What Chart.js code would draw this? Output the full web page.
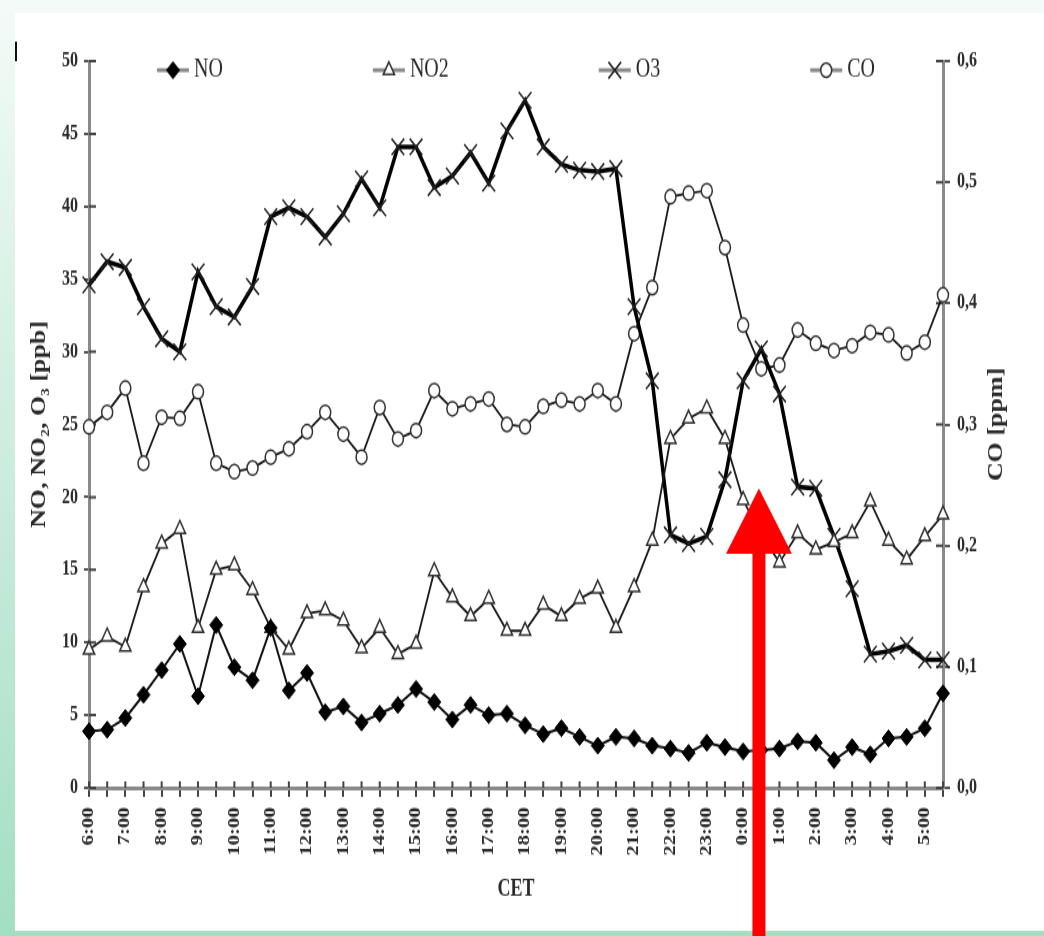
<!DOCTYPE html>
<html>
<head>
<meta charset="utf-8">
<title>NO, NO2, O3, CO</title>
<script src="https://cdn.jsdelivr.net/npm/chart.js@4.4.1/dist/chart.umd.min.js"></script>
<style>
  html { overflow: hidden; }
  body { margin: 0; padding: 0; background: #fff; width: 1044px; height: 936px; }
  /* the source figure is stretched vertically, so is this one */
  #myChart { display: block; transform: scaleY(1.3); transform-origin: 0 0; }
</style>
</head>
<body>
<canvas id="myChart" width="1044" height="720"></canvas>
<script>
const times = ['6:00', '6:30', '7:00', '7:30', '8:00', '8:30', '9:00', '9:30', '10:00', '10:30', '11:00', '11:30',
  '12:00', '12:30', '13:00', '13:30', '14:00', '14:30', '15:00', '15:30', '16:00', '16:30', '17:00', '17:30',
  '18:00', '18:30', '19:00', '19:30', '20:00', '20:30', '21:00', '21:30', '22:00', '22:30', '23:00', '23:30',
  '0:00', '0:30', '1:00', '1:30', '2:00', '2:30', '3:00', '3:30', '4:00', '4:30', '5:00', '5:30'];

// ppb
const noValues = [3.9, 4.0, 4.8, 6.4, 8.1, 9.9, 6.3, 11.2, 8.3, 7.4, 11.0, 6.7, 7.9, 5.2, 5.6, 4.5, 5.1, 5.7, 6.8, 5.9, 4.7, 5.7, 5.0, 5.1,
  4.3, 3.7, 4.1, 3.5, 2.9, 3.5, 3.4, 2.9, 2.7, 2.4, 3.1, 2.8, 2.5, 2.6, 2.7, 3.2, 3.1, 1.9, 2.8, 2.3, 3.4, 3.5, 4.1, 6.5];
const no2Values = [9.5, 10.4, 9.7, 13.8, 16.8, 17.8, 11.0, 15.0, 15.3, 13.6, 11.0, 9.5, 12.0, 12.2, 11.5, 9.6, 11.0, 9.2, 9.9, 14.9, 13.1, 11.8, 13.0, 10.8,
  10.8, 12.6, 11.8, 13.0, 13.7, 11.0, 13.8, 17.0, 24.0, 25.4, 26.1, 24.0, 19.8, 17.4, 15.5, 17.5, 16.4, 16.9, 17.5, 19.7, 17.0, 15.7, 17.3, 18.8];
const o3Values = [34.6, 36.2, 35.8, 33.1, 30.9, 30.0, 35.5, 33.1, 32.4, 34.5, 39.3, 39.9, 39.3, 37.9, 39.5, 41.9, 39.9, 44.1, 44.1, 41.3, 42.1, 43.7, 41.6, 45.2,
  47.3, 44.1, 42.9, 42.5, 42.4, 42.6, 33.1, 28.0, 17.4, 16.8, 17.3, 21.2, 28.0, 30.2, 27.1, 20.7, 20.6, 17.3, 13.7, 9.2, 9.4, 9.8, 8.8, 8.8];
// ppm
const coValues = [0.298, 0.310, 0.330, 0.268, 0.306, 0.305, 0.327, 0.268, 0.261, 0.264, 0.273, 0.280, 0.294, 0.310, 0.292, 0.273, 0.314, 0.288, 0.295, 0.328, 0.313, 0.317, 0.321, 0.300,
  0.298, 0.315, 0.320, 0.317, 0.328, 0.317, 0.375, 0.413, 0.488, 0.491, 0.493, 0.446, 0.382, 0.346, 0.349, 0.378, 0.367, 0.361, 0.365, 0.376, 0.374, 0.359, 0.368, 0.407];

const seriesLabels = ['NO', 'NO2', 'O3', 'CO'];
const leftTitle = 'NO, NO\u2082, O\u2083 [ppb]';
const rightTitle = 'CO [ppm]';
const xTitle = 'CET';

// red arrow drawn on top of the figure (index on x, ppb on y)
const arrow = { at: 36.87, tip: 20.6, base: 16.1 };

const serif = "'Liberation Serif', 'DejaVu Serif', serif";
Chart.defaults.font.family = serif;
Chart.defaults.color = '#2a2a2a';

//
const background = {
  id: 'background',
  beforeDraw(chart) {
    const { ctx, width, height } = chart;
    const grad = ctx.createLinearGradient(0, 0, 0, height);
    grad.addColorStop(0, '#f4fbf8');
    grad.addColorStop(1, '#a3dfc1');
    ctx.save();
    ctx.fillStyle = grad;
    ctx.fillRect(0, 0, width, height);
    ctx.fillStyle = '#fff';
    ctx.fillRect(15, 10, width - 15, 706);
    ctx.fillStyle = '#111';
    ctx.fillRect(15, 32, 2, 15);
    ctx.restore();
  },
};

// ticks cross the axis line in the original
const innerTicks = {
  id: 'innerTicks',
  beforeDatasetsDraw(chart) {
    const { ctx, scales } = chart;
    ctx.save();
    ctx.strokeStyle = '#444';
    ctx.lineWidth = 2;
    ctx.beginPath();
    scales.x.ticks.forEach((t, i) => {
      const px = scales.x.getPixelForTick(i);
      ctx.moveTo(px, scales.x.top);
      ctx.lineTo(px, scales.x.top - 5);
    });
    scales.y.ticks.forEach((t, i) => {
      const py = scales.y.getPixelForTick(i);
      ctx.moveTo(scales.y.right, py);
      ctx.lineTo(scales.y.right + 7, py);
    });
    scales.y1.ticks.forEach((t, i) => {
      const py = scales.y1.getPixelForTick(i);
      ctx.moveTo(scales.y1.left, py);
      ctx.lineTo(scales.y1.left - 7, py);
    });
    ctx.stroke();
    ctx.restore();
  },
};

// legend sits inside the plot, line + marker + text
const lineLegend = {
  id: 'lineLegend',
  afterDatasetsDraw(chart) {
    const { ctx, chartArea } = chart;
    const gap = 150;
    ctx.save();
    ctx.font = `20px ${serif}`;
    const items = chart.data.datasets.map((ds) => ({ ds, w: 37 + ctx.measureText(ds.label).width }));
    const total = items.reduce((s, it) => s + it.w, 0) + gap * (items.length - 1);
    let x = (chartArea.left + chartArea.right) / 2 - total / 2;
    const y = chartArea.top + 7;
    items.forEach(({ ds, w }) => {
      ctx.strokeStyle = '#8a8a8a';
      ctx.lineWidth = 3;
      ctx.beginPath();
      ctx.moveTo(x, y);
      ctx.lineTo(x + 32, y);
      ctx.stroke();
      ctx.fillStyle = ds.pointBackgroundColor;
      ctx.strokeStyle = ds.pointBorderColor;
      ctx.lineWidth = ds.pointBorderWidth;
      Chart.helpers.drawPoint(ctx, {
        pointStyle: ds.pointStyle,
        radius: ds.pointRadius,
        borderWidth: ds.pointBorderWidth,
        rotation: 0,
      }, x + 16, y);
      ctx.fillStyle = '#2a2a2a';
      ctx.textAlign = 'left';
      ctx.textBaseline = 'middle';
      ctx.fillText(ds.label, x + 37, y);
      x += w + gap;
    });
    ctx.restore();
  },
};

const extras = {
  id: 'extras',
  afterDraw(chart) {
    const { ctx, chartArea, scales, height } = chart;
    ctx.save();
    // right axis title reads bottom to top like the left one
    ctx.translate(scales.y1.left + 54, (chartArea.top + chartArea.bottom) / 2);
    ctx.rotate(-Math.PI / 2);
    ctx.font = `bold 20px ${serif}`;
    ctx.fillStyle = '#2a2a2a';
    ctx.textAlign = 'center';
    ctx.textBaseline = 'middle';
    ctx.fillText(rightTitle, 0, 0);
    ctx.restore();

    const px = scales.x.getPixelForValue(arrow.at);
    const tipY = scales.y.getPixelForValue(arrow.tip);
    const baseY = scales.y.getPixelForValue(arrow.base);
    ctx.save();
    ctx.fillStyle = '#ff0000';
    ctx.fillRect(px - 6.5, baseY - 4, 13, height - baseY + 4);
    ctx.beginPath();
    ctx.moveTo(px, tipY);
    ctx.lineTo(px + 33, baseY);
    ctx.lineTo(px - 33, baseY);
    ctx.closePath();
    ctx.fill();
    ctx.restore();
  },
};

const axisBorder = { color: '#8a8a8a', width: 3 };

const chart = new Chart(document.getElementById('myChart'), {
  type: 'line',
  data: {
    labels: times,
    datasets: [
      {
        label: seriesLabels[0],
        data: noValues,
        yAxisID: 'y',
        borderColor: '#111',
        borderWidth: 2,
        pointStyle: 'rectRot',
        pointRadius: 6.5,
        pointBackgroundColor: '#000',
        pointBorderColor: '#000',
        pointBorderWidth: 1,
      },
      {
        label: seriesLabels[1],
        data: no2Values,
        yAxisID: 'y',
        borderColor: '#1a1a1a',
        borderWidth: 1.8,
        pointStyle: 'triangle',
        pointRadius: 6.5,
        pointBackgroundColor: '#fff',
        pointBorderColor: '#333',
        pointBorderWidth: 1.5,
      },
      {
        label: seriesLabels[2],
        data: o3Values,
        yAxisID: 'y',
        borderColor: '#000',
        borderWidth: 3.5,
        pointStyle: 'crossRot',
        pointRadius: 9,
        pointBackgroundColor: '#fff',
        pointBorderColor: '#222',
        pointBorderWidth: 1.5,
      },
      {
        label: seriesLabels[3],
        data: coValues,
        yAxisID: 'y1',
        borderColor: '#1a1a1a',
        borderWidth: 1.8,
        pointStyle: 'circle',
        pointRadius: 5.5,
        pointBackgroundColor: '#fff',
        pointBorderColor: '#333',
        pointBorderWidth: 1.5,
      },
    ],
  },
  options: {
    responsive: false,
    animation: false,
    devicePixelRatio: 1,
    events: [],
    elements: { line: { tension: 0 } },
    datasets: { line: { clip: false } },
    layout: { padding: { top: 47, left: 0, right: 0, bottom: 0 } },
    plugins: { legend: { display: false }, tooltip: { enabled: false } },
    scales: {
      x: {
        afterFit: (scale) => { scale.height = 114; },
        border: axisBorder,
        grid: { drawOnChartArea: false, tickLength: 7, color: '#444', lineWidth: 2 },
        ticks: {
          autoSkip: false,
          minRotation: 90,
          maxRotation: 90,
          padding: 8,
          font: { size: 16, weight: 'bold' },
          callback: (value, index) => (index % 2 === 0 ? times[index] : ''),
        },
        title: { display: true, text: xTitle, font: { size: 18, weight: 'bold' }, padding: { top: 0, bottom: 25 } },
      },
      y: {
        position: 'left',
        min: 0,
        max: 50,
        afterFit: (scale) => { scale.width = 89; },
        border: axisBorder,
        grid: { drawOnChartArea: false, tickLength: 5, color: '#555', lineWidth: 2 },
        ticks: { stepSize: 5, padding: 6, font: { size: 16, weight: 'bold' } },
        title: { display: true, text: leftTitle, font: { size: 20, weight: 'bold' }, padding: { top: 28, bottom: 0 } },
      },
      y1: {
        position: 'right',
        min: 0,
        max: 0.6,
        afterFit: (scale) => { scale.width = 101; },
        border: axisBorder,
        grid: { drawOnChartArea: false, tickLength: 7, color: '#555', lineWidth: 2 },
        ticks: {
          stepSize: 0.1,
          padding: 7,
          font: { size: 16, weight: 'bold' },
          callback: (value) => value.toFixed(1).replace('.', ','),
        },
      },
    },
  },
  plugins: [background, innerTicks, lineLegend, extras],
});
</script>
</body>
</html>
